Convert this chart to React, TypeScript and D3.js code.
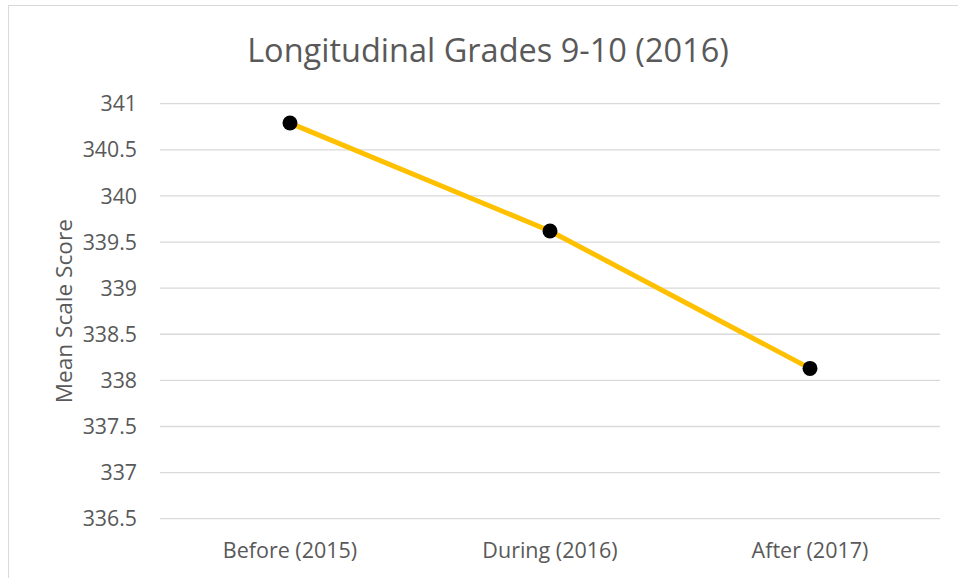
import * as d3 from 'd3'
import { useEffect, useRef } from 'react'

const width = 958, height = 578

const categories = ['Before (2015)', 'During (2016)', 'After (2017)']
const meanScores = [340.79, 339.62, 338.13]
const yTicks = [336.5, 337, 337.5, 338, 338.5, 339, 339.5, 340, 340.5, 341]

const font = "'Open Sans', 'Noto Sans', sans-serif"
const textColor = '#595959'

const chart = (svgNode: SVGSVGElement) => {
  const svg = d3.select(svgNode)
  svg.selectAll('*').remove()

  const plot = { left: 160, right: 940, top: 103.7, bottom: 518.7 }

  const x = d3.scaleBand<string>()
    .domain(categories)
    .range([plot.left, plot.right])
  const y = d3.scaleLinear()
    .domain([336.5, 341])
    .range([plot.bottom, plot.top])

  // outer chart border (runs off the right/bottom edge)
  svg.append('rect')
    .attr('x', 8.5).attr('y', 5.5)
    .attr('width', 1000).attr('height', 1000)
    .attr('fill', '#fff')
    .attr('stroke', '#d9d9d9')
    .attr('stroke-width', 1)

  // gridlines
  svg.append('g')
    .selectAll('line')
    .data(yTicks)
    .join('line')
    .attr('x1', plot.left).attr('x2', plot.right)
    .attr('y1', d => y(d)).attr('y2', d => y(d))
    .attr('stroke', '#d9d9d9')
    .attr('stroke-width', 1.3)

  // y tick labels
  svg.append('g')
    .attr('font-family', font)
    .attr('font-size', 21.3)
    .attr('fill', textColor)
    .attr('text-anchor', 'end')
    .selectAll('text')
    .data(yTicks)
    .join('text')
    .attr('x', 137)
    .attr('y', d => y(d))
    .attr('dy', '0.36em')
    .text(d => String(d))

  // x labels
  svg.append('g')
    .attr('font-family', font)
    .attr('font-size', 21.5)
    .attr('fill', textColor)
    .attr('text-anchor', 'middle')
    .selectAll('text')
    .data(categories)
    .join('text')
    .attr('x', d => x(d)! + x.bandwidth() / 2)
    .attr('y', 558)
    .text(d => d)

  // title
  svg.append('text')
    .attr('x', 488).attr('y', 62)
    .attr('text-anchor', 'middle')
    .attr('font-family', font)
    .attr('font-size', 32.5)
    .attr('fill', textColor)
    .text('Longitudinal Grades 9-10 (2016)')

  // y axis title
  svg.append('text')
    .attr('transform', `translate(72,${(plot.top + plot.bottom) / 2}) rotate(-90)`)
    .attr('text-anchor', 'middle')
    .attr('font-family', font)
    .attr('font-size', 22.6)
    .attr('fill', textColor)
    .text('Mean Scale Score')

  const pts = categories.map((c, i) => [x(c)! + x.bandwidth() / 2, y(meanScores[i])] as [number, number])

  svg.append('path')
    .attr('d', d3.line()(pts))
    .attr('fill', 'none')
    .attr('stroke', '#ffc000')
    .attr('stroke-width', 5)
    .attr('stroke-linejoin', 'round')

  svg.append('g')
    .selectAll('circle')
    .data(pts)
    .join('circle')
    .attr('cx', d => d[0]).attr('cy', d => d[1])
    .attr('r', 7.5)
    .attr('fill', '#000')
}

export default function App() {
  const ref = useRef<SVGSVGElement>(null)
  useEffect(() => {
    if (ref.current) chart(ref.current)
  }, [])
  return (
    <svg
      ref={ref}
      width={width}
      height={height}
      style={{ position: 'fixed', left: 0, top: 0, background: '#fff' }}
    />
  )
}
